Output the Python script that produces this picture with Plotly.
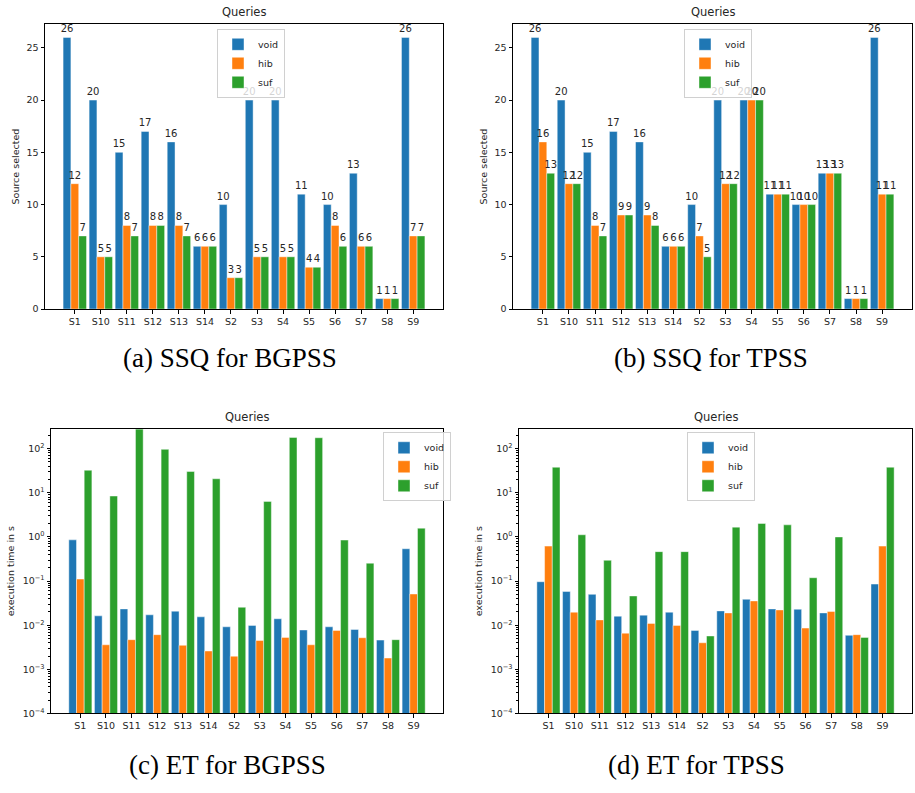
import plotly.graph_objects as go

categories = ["S1", "S10", "S11", "S12", "S13", "S14", "S2", "S3", "S4", "S5", "S6", "S7", "S8", "S9"]
series_names = ["void", "hib", "suf"]
colors = ["#1f77b4", "#ff7f0e", "#2ca02c"]

# (a) SSQ for BGPSS
ssq_bgpss_void = [26, 20, 15, 17, 16, 6, 10, 20, 20, 11, 10, 13, 1, 26]
ssq_bgpss_hib = [12, 5, 8, 8, 8, 6, 3, 5, 5, 4, 8, 6, 1, 7]
ssq_bgpss_suf = [7, 5, 7, 8, 7, 6, 3, 5, 5, 4, 6, 6, 1, 7]

# (b) SSQ for TPSS
ssq_tpss_void = [26, 20, 15, 17, 16, 6, 10, 20, 20, 11, 10, 13, 1, 26]
ssq_tpss_hib = [16, 12, 8, 9, 9, 6, 7, 12, 20, 11, 10, 13, 1, 11]
ssq_tpss_suf = [13, 12, 7, 9, 8, 6, 5, 12, 20, 11, 10, 13, 1, 11]

# (c) ET for BGPSS (seconds)
et_bgpss_void = [0.86, 0.0163, 0.0234, 0.0172, 0.0208, 0.0155, 0.0092, 0.0099, 0.014, 0.0078, 0.0092, 0.0080, 0.0046, 0.54]
et_bgpss_hib = [0.111, 0.0036, 0.0047, 0.0061, 0.0035, 0.0026, 0.00198, 0.0045, 0.0053, 0.0036, 0.0076, 0.0052, 0.0018, 0.051]
et_bgpss_suf = [32.5, 8.45, 280, 96.6, 30.4, 20.8, 0.0255, 6.4, 180, 177, 0.85, 0.254, 0.0047, 1.58]

# (d) ET for TPSS (seconds)
et_tpss_void = [0.0966, 0.058, 0.050, 0.016, 0.0169, 0.0197, 0.0076, 0.0211, 0.0387, 0.0234, 0.023, 0.019, 0.0059, 0.0855]
et_tpss_hib = [0.62, 0.0197, 0.0132, 0.0066, 0.011, 0.0099, 0.0040, 0.019, 0.0355, 0.0222, 0.0086, 0.0204, 0.0061, 0.62]
et_tpss_suf = [38, 1.12, 0.296, 0.046, 0.465, 0.465, 0.0057, 1.67, 2.02, 1.88, 0.119, 1.0, 0.0053, 38]

captions = ["(a) SSQ for BGPSS", "(b) SSQ for TPSS", "(c) ET for BGPSS", "(d) ET for TPSS"]
panel_title = "Queries"
ylabel_ssq = "Source selected"
ylabel_et = "execution time in s"
log_tickvals = [1e-4, 1e-3, 1e-2, 1e-1, 1e0, 1e1, 1e2]
log_ticktext = ["10<sup>\u22124</sup>", "10<sup>\u22123</sup>", "10<sup>\u22122</sup>",
                "10<sup>\u22121</sup>", "10<sup>0</sup>", "10<sup>1</sup>", "10<sup>2</sup>"]

W, H = 915, 793
FONT = "DejaVu Sans"


def px2x(px):
    return px / W


def px2y(py):
    return 1 - py / H


panels = [
    dict(data=[ssq_bgpss_void, ssq_bgpss_hib, ssq_bgpss_suf], px=(45, 443), py=(24, 311), log=False, labels=True,
         legend=(217, 29), ylabel=ylabel_ssq, ylx=15, cap=(230, 360)),
    dict(data=[ssq_tpss_void, ssq_tpss_hib, ssq_tpss_suf], px=(513, 912), py=(24, 311), log=False, labels=True,
         legend=(684, 29), ylabel=ylabel_ssq, ylx=483, cap=(711, 360)),
    dict(data=[et_bgpss_void, et_bgpss_hib, et_bgpss_suf], px=(51, 443), py=(432, 718), log=True, labels=False,
         legend=(383, 435), ylabel=ylabel_et, ylx=10, cap=(227, 770)),
    dict(data=[et_tpss_void, et_tpss_hib, et_tpss_suf], px=(519, 912), py=(432, 718), log=True, labels=False,
         legend=(687, 435), ylabel=ylabel_et, ylx=478, cap=(696, 770)),
]

fig = go.Figure()
layout = dict(
    width=W, height=H, margin=dict(l=0, r=0, t=0, b=0),
    paper_bgcolor="white", plot_bgcolor="white",
    barmode="group", bargap=0.1, bargroupgap=0.0,
    font=dict(family=FONT, size=10, color="#262626"),
    annotations=[],
)

minor_log = [m * 10 ** k for k in range(-4, 3) for m in range(2, 10)]

for i, p in enumerate(panels):
    n = "" if i == 0 else str(i + 1)
    xa, ya = "x" + n, "y" + n
    lg = "legend" + n
    for s, (vals, name, col) in enumerate(zip(p["data"], series_names, colors)):
        tr = dict(
            x=categories, y=vals, name=name, xaxis=xa, yaxis=ya, legend=lg,
            marker=dict(color=col, line=dict(color="rgba(255,255,255,0.55)", width=0.8)),
            showlegend=True,
        )
        if p["labels"]:
            tr.update(text=[str(v) for v in vals], textposition="outside",
                      textfont=dict(size=10, color="#262626", family=FONT),
                      constraintext="none", cliponaxis=False)
        fig.add_trace(go.Bar(**tr))
    x0, x1 = p["px"]
    y0, y1 = p["py"]
    axis_common = dict(showline=True, linecolor="black", linewidth=1, mirror=True,
                       ticks="outside", ticklen=3.5, tickcolor="black", showgrid=False, zeroline=False,
                       tickfont=dict(size=9.5, family=FONT, color="#262626"))
    layout["xaxis" + n] = dict(domain=[px2x(x0), px2x(x1)], anchor=ya, range=[-1.145, 14.145],
                               type="category", **axis_common)
    if p["log"]:
        layout["yaxis" + n] = dict(domain=[px2y(y1), px2y(y0)], anchor=xa, type="log",
                                   range=[-4, 2.44], tickvals=log_tickvals, ticktext=log_ticktext,
                                   minor=dict(ticks="outside", ticklen=2, tickcolor="black",
                                              tickvals=minor_log, showgrid=False),
                                   **axis_common)
    else:
        layout["yaxis" + n] = dict(domain=[px2y(y1), px2y(y0)], anchor=xa, range=[0, 27.3],
                                   tickvals=[0, 5, 10, 15, 20, 25], **axis_common)
    lx, ly = p["legend"]
    layout[lg] = dict(x=px2x(lx), y=px2y(ly), xanchor="left", yanchor="top",
                      bgcolor="rgba(255,255,255,0.8)", bordercolor="#d0d0d0", borderwidth=1,
                      font=dict(size=9.5, family=FONT, color="#262626"),
                      tracegroupgap=0, itemwidth=30)
    # panel title
    layout["annotations"].append(dict(text=panel_title, xref="paper", yref="paper",
                                      x=px2x((x0 + x1) / 2), y=px2y(y0 - 3), xanchor="center",
                                      yanchor="bottom", showarrow=False,
                                      font=dict(size=11.5, family=FONT, color="#262626")))
    # y label
    layout["annotations"].append(dict(text=p["ylabel"], xref="paper", yref="paper",
                                      x=px2x(p["ylx"]), y=px2y((y0 + y1) / 2), textangle=-90,
                                      xanchor="center", yanchor="middle", showarrow=False,
                                      font=dict(size=9.5, family=FONT, color="#262626")))
    # caption
    cx, cy = p["cap"]
    layout["annotations"].append(dict(text=captions[i], xref="paper", yref="paper",
                                      x=px2x(cx), y=px2y(cy), xanchor="center", yanchor="middle",
                                      showarrow=False,
                                      font=dict(size=27, family="Liberation Serif", color="black")))

fig.update_layout(**layout)
# remove the default 8px page margin so the figure fills the window exactly
fig.write_html("out.html", config={"displayModeBar": False},
               post_script="document.body.style.margin='0px';")
